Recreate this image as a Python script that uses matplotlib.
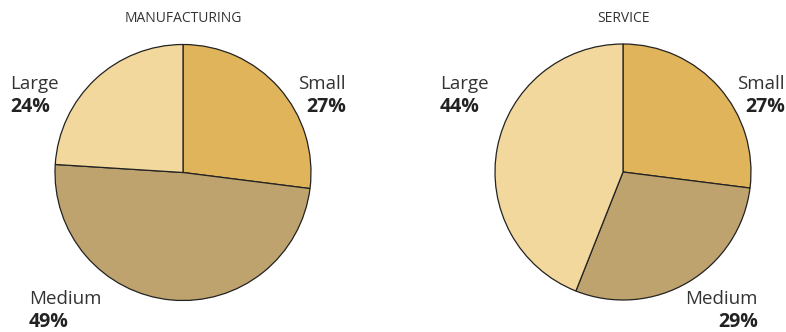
import matplotlib
matplotlib.use("Agg")
import matplotlib.pyplot as plt

plt.rcParams['font.family'] = ['Open Sans', 'DejaVu Sans']

sizes = ["Small", "Medium", "Large"]
manufacturing = [27, 49, 24]
service = [27, 29, 44]
titles = ["MANUFACTURING", "SERVICE"]
colors = ["#dfb45a", "#bfa36e", "#f3d89e"]

W, H = 786, 332
fig = plt.figure(figsize=(W / 100, H / 100), dpi=100)


def px(x, y):
    return x / W, 1 - y / H


# pie centres / radius in pixels
centres = [(183, 172.5), (623, 172)]
r = 128

# label anchors (pixel x, name y, align) per pie, in order of sizes
label_pos = [
    [(346, 84, "right"), (29, 299, "left"), (10, 84, "left")],
    [(785, 84, "right"), (758, 299, "right"), (440, 84, "left")],
]

for i, vals in enumerate([manufacturing, service]):
    cx, cy = centres[i]
    x0, y0 = px(cx - r, cy + r)
    ax = fig.add_axes([x0, y0, 2 * r / W, 2 * r / H])
    ax.pie(vals, colors=colors, startangle=90, counterclock=False,
           wedgeprops=dict(edgecolor="#222222", linewidth=0.9))
    ax.set_xlim(-1, 1)
    ax.set_ylim(-1, 1)
    ax.set_aspect("auto")
    ax.axis("off")

    tx, ty = px(cx, 18)
    fig.text(tx, ty, titles[i], ha="center", va="center",
             fontsize=10, color="#333333")

    for name, v, (lx, ly, ha) in zip(sizes, vals, label_pos[i]):
        fx, fy = px(lx, ly)
        fig.text(fx, fy, name, ha=ha, va="center", fontsize=13.5,
                 color="#333333")
        fx, fy = px(lx, ly + 23)
        fig.text(fx, fy, f"{v}%", ha=ha, va="center", fontsize=14,
                 fontweight="bold", color="#222222")

fig.savefig("out.png", dpi=100)
